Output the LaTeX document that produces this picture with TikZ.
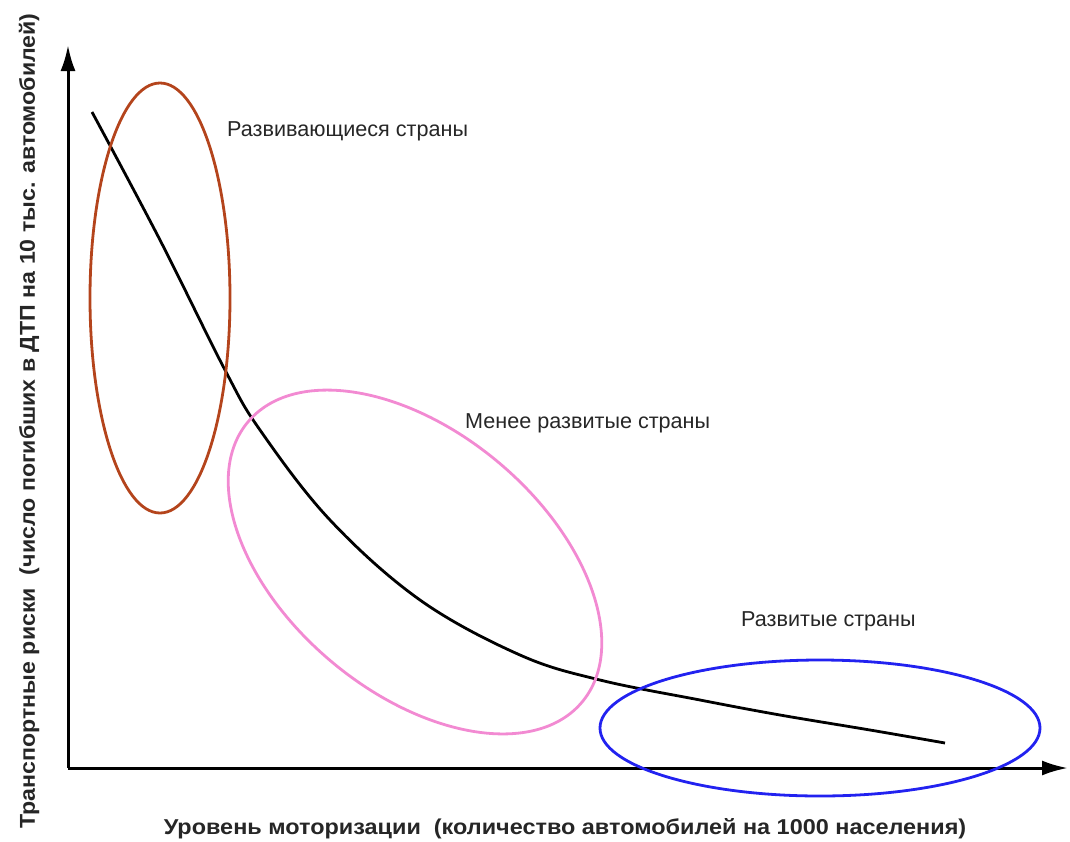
\documentclass[tikz,border=0pt]{standalone}
\usepackage{fontspec}
\setmainfont{Liberation Sans}
\usetikzlibrary{arrows.meta}
\definecolor{devred}{HTML}{B4441C}
\definecolor{lesspink}{HTML}{F28AD2}
\definecolor{devblue}{HTML}{2222F0}
\tikzset{
  axis/.style={line width=3pt, -{Latex[length=26pt,width=15pt]}},
  curveline/.style={line width=2.8pt, black},
  region/.style={line width=2.8pt},
  lbl/.style={font=\fontsize{21.6}{24}\selectfont, text=black!85, anchor=west, inner sep=0pt},
  axlbl/.style={font=\bfseries\fontsize{21.5}{24}\selectfont, text=black!85, inner sep=0pt}
}
\begin{document}
\begin{tikzpicture}[x=1pt,y=-1pt]
\useasboundingbox (0,0) rectangle (1070,841);
\coordinate (O) at (68,768);
\coordinate (ytip) at (68,45);
\coordinate (xtip) at (1068,768);
\draw[axis] (O) -- (ytip);
\draw[axis] (O) -- (xtip);
\draw[curveline] plot[smooth, tension=0.6] coordinates {(92,112) (160,240) (225,370) (260,430) (330,520) (420,600) (520,655) (600,680) (700,700) (780,715) (870,730) (945,743)};
\draw[region, devred] (160,298) ellipse [x radius=70pt, y radius=215pt];
\draw[region, lesspink, rotate around={-40:(415,562)}] (415,562) ellipse [x radius=218pt, y radius=130pt];
\draw[region, devblue] (820,728) ellipse [x radius=220pt, y radius=68pt];
\node[lbl] (t1) at (227,131) {Развивающиеся страны};
\node[lbl] (t2) at (465,423) {Менее развитые страны};
\node[lbl] (t3) at (741,621) {Развитые страны};
\node[axlbl, xscale=1.09] (xl) at (565,829) {Уровень моторизации \ (количество автомобилей на 1000 населения)};
\node[axlbl, rotate=90, xscale=1.077] (yl) at (29,421) {Транспортные риски \ (число погибших в ДТП на 10 тыс. автомобилей)};
\end{tikzpicture}
\end{document}
